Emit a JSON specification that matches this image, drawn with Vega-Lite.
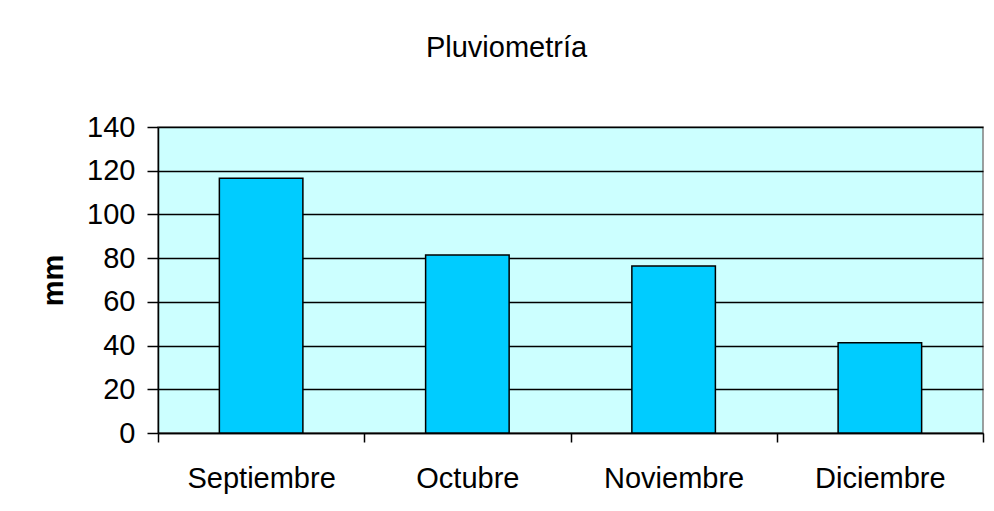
{
  "$schema": "https://vega.github.io/schema/vega-lite/v6.json",
  "autosize": "none",
  "width": 825,
  "height": 306,
  "padding": {"left": 158, "top": 127, "right": 11, "bottom": 78},
  "background": "white",
  "title": {
    "text": "Pluviometría",
    "anchor": "middle",
    "dx": -64,
    "offset": 27,
    "baseline": "alphabetic",
    "font": "Liberation Sans",
    "fontSize": 29,
    "fontWeight": "normal",
    "color": "black"
  },
  "data": {
    "values": [
      {"mes": "Septiembre", "mm": 116.6},
      {"mes": "Octubre", "mm": 81.4},
      {"mes": "Noviembre", "mm": 76.4},
      {"mes": "Diciembre", "mm": 41.3}
    ]
  },
  "mark": {
    "type": "bar",
    "fill": "#00CCFF",
    "stroke": "black",
    "strokeWidth": 1.5,
    "width": {"band": 0.405}
  },
  "encoding": {
    "x": {
      "field": "mes",
      "type": "nominal",
      "sort": null,
      "scale": {"paddingInner": 0, "paddingOuter": 0},
      "axis": {
        "title": null,
        "labelAngle": 0,
        "labelFont": "Liberation Sans",
        "labelFontSize": 29,
        "labelColor": "black",
        "labelBaseline": "alphabetic",
        "labelPadding": 45,
        "tickBand": "extent",
        "tickSize": 9,
        "tickColor": "black",
        "tickWidth": 1.5,
        "domainColor": "black",
        "domainWidth": 1.5,
        "grid": false
      }
    },
    "y": {
      "field": "mm",
      "type": "quantitative",
      "scale": {"domain": [0, 140], "nice": false},
      "axis": {
        "title": "mm",
        "values": [0, 20, 40, 60, 80, 100, 120, 140],
        "titleFont": "Liberation Sans",
        "titleFontSize": 29,
        "titleFontWeight": "bold",
        "titleColor": "black",
        "titlePadding": 18,
        "labelFont": "Liberation Sans",
        "labelFontSize": 29,
        "labelColor": "black",
        "labelPadding": 12,
        "tickSize": 11,
        "tickColor": "black",
        "tickWidth": 1.5,
        "domainColor": "black",
        "domainWidth": 1.5,
        "grid": true,
        "gridColor": "black",
        "gridWidth": 1.5,
        "gridOpacity": 1
      }
    }
  },
  "config": {
    "view": {"fill": "#CCFFFF", "stroke": "#808080", "strokeWidth": 1.5}
  }
}
